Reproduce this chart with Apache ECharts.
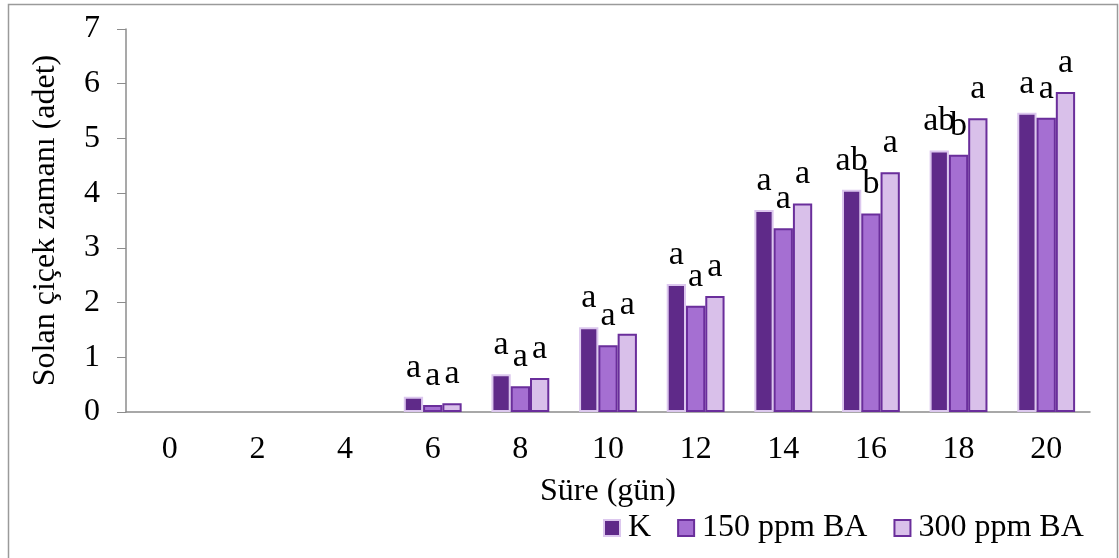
<!DOCTYPE html>
<html>
<head>
<meta charset="utf-8">
<script src="https://cdn.jsdelivr.net/npm/echarts@6/dist/echarts.min.js"></script>
<style>
  html, body { margin: 0; padding: 0; background: #fff; }
  #container { width: 1119px; height: 558px; }
</style>
</head>
<body>
<div id="container"></div>
<script>
(function() {
    var days = ['0', '2', '4', '6', '8', '10', '12', '14', '16', '18', '20'];
    var seriesNames = ['K', '150 ppm BA', '300 ppm BA'];
    var kValues = [0, 0, 0, 0.28, 0.69, 1.55, 2.34, 3.69, 4.06, 4.78, 5.47];
    var ba150Values = [0, 0, 0, 0.13, 0.47, 1.22, 1.94, 3.36, 3.63, 4.70, 5.38];
    var ba300Values = [0, 0, 0, 0.16, 0.62, 1.43, 2.12, 3.81, 4.38, 5.37, 5.85];
    var kLetters = ['', '', '', 'a', 'a', 'a', 'a', 'a', 'ab', 'ab', 'a'];
    var ba150Letters = ['', '', '', 'a', 'a', 'a', 'a', 'a', 'b', 'b', 'a'];
    var ba300Letters = ['', '', '', 'a', 'a', 'a', 'a', 'a', 'a', 'a', 'a'];

    var font = "'Liberation Serif', 'Times New Roman', serif";
    var dom = document.getElementById("container");
    var myChart = echarts.init(dom);

    function makeSeries(name, values, letters, color, border) {
        return {
            name: name,
            type: 'bar',
            // zero bars are not drawn in the original, so hide their outline
            data: values.map(function(v) {
                return v === 0 ? { value: v, itemStyle: { borderWidth: 0 } } : v;
            }),
            barGap: '0%',
            barCategoryGap: '34%',
            itemStyle: {
                color: color,
                borderColor: border,
                borderWidth: 2
            },
            label: {
                show: true,
                position: 'top',
                distance: 12,
                fontFamily: font,
                fontSize: 34,
                color: '#000',
                formatter: function(p) {
                    return letters[p.dataIndex];
                }
            }
        };
    }

    myChart.setOption({
        animation: false,
        textStyle: { fontFamily: font },
        graphic: [{
            type: 'rect',
            shape: { x: 8.5, y: 4.5, width: 1109, height: 580 },
            style: { fill: 'none', stroke: '#9a9a9a', lineWidth: 1.5 },
            silent: true
        }],
        grid: {
            left: 126,
            right: 29,
            top: 29,
            bottom: 146
        },
        legend: {
            data: seriesNames,
            left: 598,
            top: 507,
            icon: 'rect',
            itemWidth: 16,
            itemHeight: 16,
            itemGap: 26,
            textStyle: { fontFamily: font, fontSize: 32, color: '#000', padding: [0, 0, 0, 3] }
        },
        xAxis: {
            type: 'category',
            data: days,
            name: 'Süre (gün)',
            nameLocation: 'middle',
            nameGap: 64,
            nameTextStyle: { fontFamily: font, fontSize: 32, color: '#000' },
            axisLine: { lineStyle: { color: '#8c8c8c', width: 1.5 } },
            axisTick: { length: 9, lineStyle: { color: '#8c8c8c' } },
            axisLabel: { fontFamily: font, fontSize: 32, color: '#000', margin: 22 }
        },
        yAxis: {
            type: 'value',
            min: 0,
            max: 7,
            interval: 1,
            name: 'Solan çiçek zamanı (adet)',
            nameLocation: 'middle',
            nameGap: 64,
            nameTextStyle: { fontFamily: font, fontSize: 32, color: '#000' },
            axisLine: { show: true, lineStyle: { color: '#8c8c8c', width: 1.5 } },
            axisTick: { show: true, length: 9, lineStyle: { color: '#8c8c8c' } },
            axisLabel: { fontFamily: font, fontSize: 32, color: '#000', margin: 26 },
            splitLine: { show: false }
        },
        series: [
            makeSeries(seriesNames[0], kValues, kLetters, '#5f2a89', '#dcc7ee'),
            makeSeries(seriesNames[1], ba150Values, ba150Letters, '#a56fd2', '#6a2e9b'),
            makeSeries(seriesNames[2], ba300Values, ba300Letters, '#d9c0ea', '#6a2e9b')
        ]
    });
}).call(this);
</script>
</body>
</html>
